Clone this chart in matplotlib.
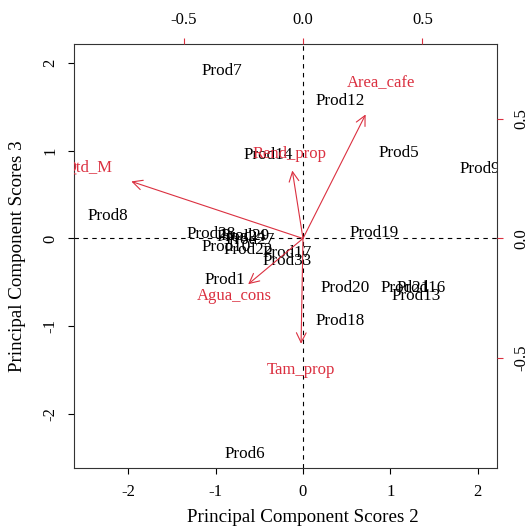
import numpy as np
import matplotlib.pyplot as plt

plt.rcParams['font.family'] = ['Liberation Serif', 'DejaVu Serif']
plt.rcParams['axes.unicode_minus'] = False

# scores on PC2 / PC3
prod_names = ['Prod1', 'Prod5', 'Prod6', 'Prod7', 'Prod8', 'Prod9', 'Prod10',
              'Prod12', 'Prod13', 'Prod14', 'Prod16', 'Prod17', 'Prod18',
              'Prod19', 'Prod20', 'Prod21', 'Prod22', 'Prod24', 'Prod27',
              'Prod28', 'Prod29', 'Prod33']
pc2_scores = [-0.89, 1.10, -0.66, -0.93, -2.23, 2.02, -0.88,
              0.43, 1.30, -0.40, 1.35, -0.175, 0.43,
              0.815, 0.48, 1.175, -0.63, -0.71, -0.60,
              -1.056, -0.656, -0.187]
pc3_scores = [-0.47, 0.98, -2.46, 1.91, 0.26, 0.79, -0.095,
              1.57, -0.655, 0.957, -0.563, -0.171, -0.94,
              0.06, -0.56, -0.563, -0.133, 0.019, -0.015,
              0.046, 0.031, -0.255]

# variable loadings on PC2 / PC3
var_names = ['Area_cafe', 'Qtd_M', 'Rend_prop', 'Agua_cons', 'Tam_prop']
pc2_load = [0.328, -0.899, -0.056, -0.287, -0.010]
pc3_load = [0.648, 0.298, 0.355, -0.239, -0.550]

red = '#DB3040'
lim = np.array([-2.62, 2.22])
ratio = 2.731

fig = plt.figure(figsize=(5.28, 5.28), dpi=100)
pos = [74 / 528, 1 - 468 / 528, (497 - 74) / 528, (468 - 44) / 528]
ax = fig.add_axes(pos)
ax.set_xlim(lim)
ax.set_ylim(lim)

for name, x, y in zip(prod_names, pc2_scores, pc3_scores):
    ax.text(x, y, name, ha='center', va='center', fontsize=12.3, clip_on=True)

ax.set_xticks([-2, -1, 0, 1, 2])
ax.set_yticks([-2, -1, 0, 1, 2])
ax.tick_params(direction='out', length=4.5, width=0.8, labelsize=12, pad=7)
ax.tick_params(axis='y', labelrotation=90)
for lab in ax.get_yticklabels():
    lab.set_va('center')
for s in ax.spines.values():
    s.set_linewidth(0.8)
    s.set_color('#333333')

# loadings axes on top / right
ax2 = fig.add_axes(pos, frameon=False)
ax2.set_xlim(lim / ratio)
ax2.set_ylim(lim / ratio)
ax2.xaxis.tick_top()
ax2.yaxis.tick_right()
ax2.set_xticks([-0.5, 0.0, 0.5])
ax2.set_yticks([-0.5, 0.0, 0.5])
ax2.set_xticklabels(['-0.5', '0.0', '0.5'])
ax2.set_yticklabels(['-0.5', '0.0', '0.5'])
ax2.tick_params(direction='out', length=4.5, width=0.8, color=red,
                labelsize=12, pad=7)
ax2.tick_params(axis='y', labelrotation=90)
for lab in ax2.get_yticklabels():
    lab.set_va('center')

ax2.axhline(0, color='black', lw=0.8, ls=(0, (4, 4)))
ax2.axvline(0, color='black', lw=0.8, ls=(0, (4, 4)))

for name, x, y in zip(var_names, pc2_load, pc3_load):
    ax2.annotate('', xy=(0.8 * x, 0.8 * y), xytext=(0, 0),
                 arrowprops=dict(arrowstyle='->,head_length=0.7,head_width=0.35',
                                 color=red, lw=0.8, shrinkA=0, shrinkB=0))
    ax2.text(x, y, name, ha='center', va='center', fontsize=12, color=red,
             clip_on=True)

fig.text(303.3 / 528, 1 - 518 / 528, 'Principal Component Scores 2',
         ha='center', va='center', fontsize=13.7)
fig.text(18 / 528, 1 - 256 / 528, 'Principal Component Scores 3',
         ha='center', va='center', rotation=90, fontsize=13.7)

fig.savefig('out.png', dpi=100)
